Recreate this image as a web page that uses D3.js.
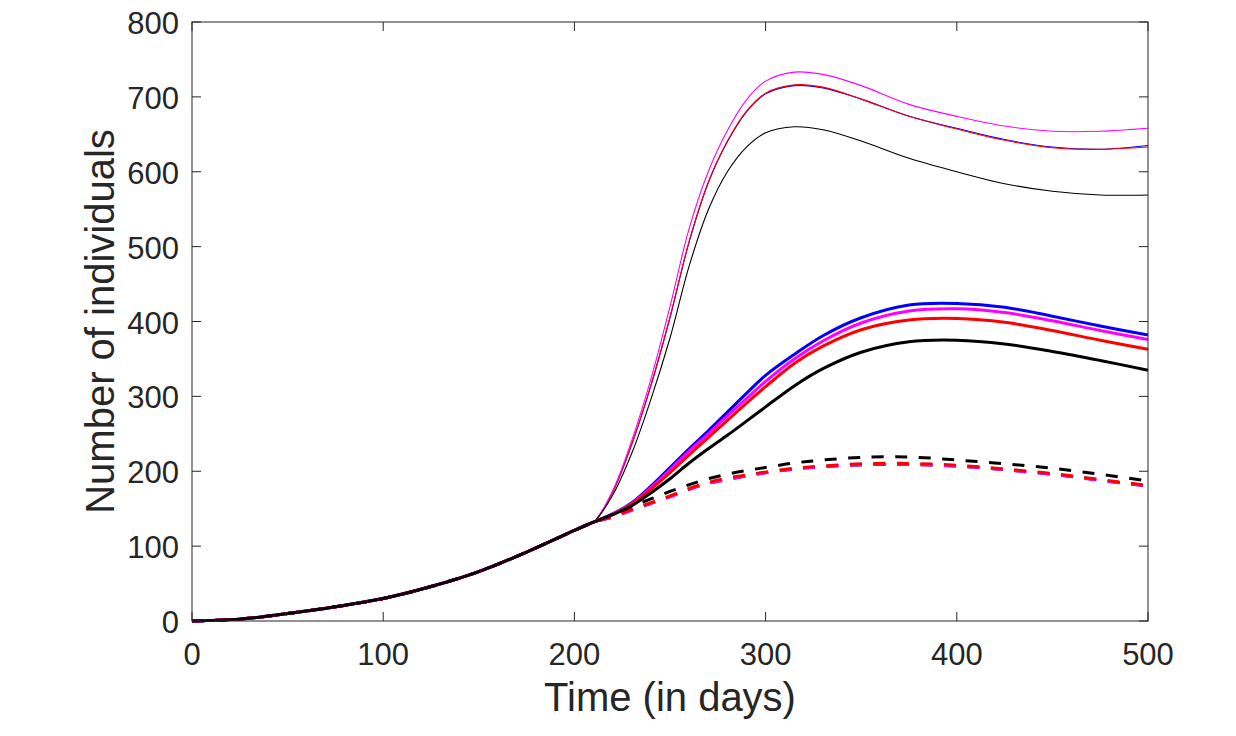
<!DOCTYPE html>
<html>
<head>
<meta charset="utf-8">
<script src="https://cdn.jsdelivr.net/npm/d3@7"></script>
<style>
  body { margin: 0; background: #fff; }
  text { font-family: "Liberation Sans", Arial, sans-serif; fill: #262626; }
</style>
</head>
<body>
<script>
  // time grid (days)
  const days = [0, 25, 50, 75, 100, 125, 150, 175, 200, 210,
    220, 230, 240, 250, 260, 270, 280, 290, 300, 315, 330, 350, 375, 400, 425, 450, 475, 500];

  // shared start, before the curves split
  const startPart = [0, 2.5, 10, 19, 30, 46, 66, 92, 121, 132];

  const thinBlue = [172, 236, 314, 405, 506, 585, 640, 680, 704, 715, 712, 697, 674, 658, 643, 633, 630, 635];
  const thinRed = [172, 236, 315, 406, 507, 586, 641, 681, 705, 716, 713, 697, 674, 657, 642, 632, 630, 633];
  const thinMagenta = [174, 241, 323, 420, 524, 600, 655, 696, 721, 733, 730, 715, 690, 674, 661, 654, 654, 658];
  const thinBlack = [168, 224, 296, 378, 474, 549, 600, 633, 652, 660, 656, 641, 618, 600, 584, 574, 569, 569];

  const thickBlue = [143, 158, 180, 205, 230, 254, 279, 304, 328, 356, 381, 405, 422, 424, 419, 407, 394, 382];
  const thickMagenta = [143, 157, 178, 202, 227, 250, 274, 297, 320, 350, 374, 398, 414, 417, 412, 401, 388, 376];
  const thickRed = [142, 156, 176, 198, 222, 245, 268, 291, 313, 344, 367, 389, 402, 404, 399, 388, 375, 363];
  const thickBlack = [142, 154, 171, 190, 211, 230, 248, 267, 286, 314, 337, 359, 373, 375, 370, 360, 348, 335];

  const dashBlue = [139, 148, 157, 166, 176, 184, 189, 194, 198, 203, 206, 208.5, 209, 207, 202, 196, 188, 180];
  const dashMagenta = [139, 148, 157, 166, 176, 184, 189, 194, 198, 203, 206, 209, 209, 207, 202, 196, 188, 180];
  const dashRed = [140, 149, 158, 167, 177, 185, 191, 195, 199, 204, 207, 210, 210.5, 208, 203, 197, 189, 181];
  const dashBlack = [142, 153, 163, 173, 182, 190, 196, 201, 205, 211, 215, 218.5, 219, 215, 210, 204, 196, 187];

  const xTicks = [0, 100, 200, 300, 400, 500];
  const yTicks = [0, 100, 200, 300, 400, 500, 600, 700, 800];

  const series = [
    { vals: thinBlue, color: '#0000ff', w: 1.1, dash: null },
    { vals: thinRed, color: '#ff0000', w: 1.1, dash: null },
    { vals: thinMagenta, color: '#ff00ff', w: 1.1, dash: null },
    { vals: thinBlack, color: '#000000', w: 1.1, dash: null },
    { vals: thickBlue, color: '#0000ff', w: 3, dash: null },
    { vals: thickMagenta, color: '#ff00ff', w: 3, dash: null },
    { vals: thickRed, color: '#ff0000', w: 3, dash: null },
    { vals: thickBlack, color: '#000000', w: 3, dash: null },
    { vals: dashBlue, color: '#0000ff', w: 3, dash: '12,11.5' },
    { vals: dashMagenta, color: '#ff00ff', w: 3, dash: '12,11.5' },
    { vals: dashRed, color: '#ff0000', w: 3, dash: '12,11.5' },
    { vals: dashBlack, color: '#000000', w: 3, dash: '12,11.5' },
  ];

  const width = 1236;
  const height = 736;
  const margin = { top: 22, right: 88, bottom: 115, left: 192 };
  const innerWidth = width - margin.left - margin.right;
  const innerHeight = height - margin.top - margin.bottom;

  const svg = d3.select('body')
    .append('svg')
    .attr('width', width)
    .attr('height', height);

  const g = svg.append('g')
    .attr('transform', `translate(${margin.left}, ${margin.top})`);

  const x = d3.scaleLinear().domain([0, 500]).range([0, innerWidth]);
  const y = d3.scaleLinear().domain([0, 800]).range([innerHeight, 0]);

  const line = d3.line()
    .x((d) => x(d[0]))
    .y((d) => y(d[1]))
    .curve(d3.curveCatmullRom.alpha(0.5));

  series.forEach((s) => {
    const pts = days.map((t, i) => [t, i < startPart.length ? startPart[i] : s.vals[i - startPart.length]]);
    g.append('path')
      .attr('d', line(pts))
      .style('fill', 'none')
      .style('stroke', s.color)
      .style('stroke-width', s.w)
      .style('stroke-dasharray', s.dash)
      .style('stroke-linejoin', 'round');
  });

  // box and ticks, matlab style (inward on all sides)
  const axisColor = '#262626';
  const tickLen = 9;
  g.append('rect')
    .attr('width', innerWidth)
    .attr('height', innerHeight)
    .style('fill', 'none')
    .style('stroke', axisColor)
    .style('stroke-width', 1);

  xTicks.forEach((t) => {
    g.append('line').attr('x1', x(t)).attr('x2', x(t)).attr('y1', innerHeight).attr('y2', innerHeight - tickLen)
      .style('stroke', axisColor);
    g.append('line').attr('x1', x(t)).attr('x2', x(t)).attr('y1', 0).attr('y2', tickLen)
      .style('stroke', axisColor);
    g.append('text')
      .attr('x', x(t))
      .attr('y', innerHeight + 44)
      .attr('text-anchor', 'middle')
      .style('font-size', '31px')
      .text(t);
  });

  yTicks.forEach((v) => {
    g.append('line').attr('x1', 0).attr('x2', tickLen).attr('y1', y(v)).attr('y2', y(v))
      .style('stroke', axisColor);
    g.append('line').attr('x1', innerWidth).attr('x2', innerWidth - tickLen).attr('y1', y(v)).attr('y2', y(v))
      .style('stroke', axisColor);
    g.append('text')
      .attr('x', -13)
      .attr('y', y(v) + 12)
      .attr('text-anchor', 'end')
      .style('font-size', '31px')
      .text(v);
  });

  g.append('text')
    .attr('x', innerWidth / 2)
    .attr('y', innerHeight + 90)
    .attr('text-anchor', 'middle')
    .style('font-size', '40px')
    .text('Time (in days)');

  g.append('text')
    .attr('transform', `translate(${-78}, ${innerHeight / 2}) rotate(-90)`)
    .attr('text-anchor', 'middle')
    .style('font-size', '40px')
    .text('Number of individuals');
</script>
</body>
</html>
